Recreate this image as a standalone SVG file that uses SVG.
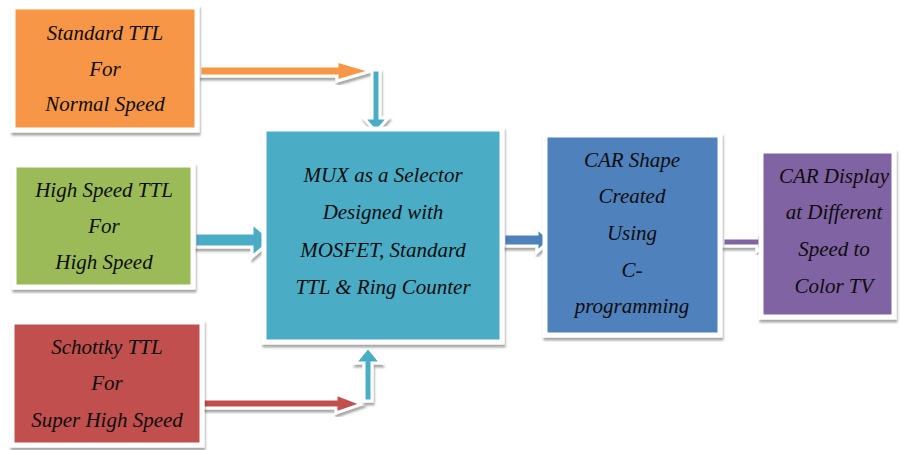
<svg xmlns="http://www.w3.org/2000/svg" width="901" height="450" viewBox="0 0 901 450">
<defs>
<filter id="sh" x="-10%" y="-10%" width="130%" height="130%">
<feDropShadow dx="1" dy="3" stdDeviation="1.2" flood-color="#000" flood-opacity="0.35"/>
</filter>
</defs>
<style>
.box{stroke:#ffffff;stroke-width:5;filter:url(#sh)}
.arr{stroke:#ffffff;stroke-width:3;stroke-linejoin:miter;filter:url(#sh)}
text{font-family:"Liberation Serif","Times New Roman",serif;font-style:italic;font-size:21px;fill:#0d0d0d;text-anchor:middle}
</style>
<rect width="901" height="450" fill="#ffffff"/>
<g id="connectors">
<polygon class="arr" fill="#F79646" points="200,66 337,66 337,61 371,71 337,81 337,76 200,76"/>
<polygon class="arr" fill="#4BACC6" points="372,70 380,70 380,118 388,118 376,132 364,118 372,118"/>
<polygon class="arr" fill="#4BACC6" points="195,233 252,233 252,223 272,240 252,257 252,247 195,247"/>
<polygon class="arr" fill="#C0504D" points="203,399 336,399 336,394 362,404 336,413 336,408 203,408"/>
<polygon class="arr" fill="#4BACC6" points="364,401 372,401 372,363 381,363 368,347 355,363 364,363"/>
<polygon class="arr" fill="#4F81BD" points="504,234 537,234 537,228 550,240 537,252 537,246 504,246"/>
<polygon class="arr" fill="#8064A2" points="723,238 757,238 757,233 769,242 757,251 757,246 723,246"/>
</g>
<g id="standard-ttl">
<rect class="box" x="13" y="7" width="184" height="123" fill="#F79646"/>
<text x="105" y="40">Standard TTL</text>
<text x="105" y="76">For</text>
<text x="105" y="111">Normal Speed</text>
</g>
<g id="high-speed-ttl">
<rect class="box" x="14" y="165" width="179" height="122" fill="#9BBB59"/>
<text x="104" y="197">High Speed TTL</text>
<text x="104" y="233">For</text>
<text x="104" y="269">High Speed</text>
</g>
<g id="schottky-ttl">
<rect class="box" x="12" y="322" width="190" height="123" fill="#C0504D"/>
<text x="107" y="354">Schottky TTL</text>
<text x="107" y="390">For</text>
<text x="107" y="427">Super High Speed</text>
</g>
<g id="mux">
<rect class="box" x="264" y="129" width="238" height="213" fill="#4BACC6"/>
<text x="383" y="182">MUX as a Selector</text>
<text x="383" y="219">Designed with</text>
<text x="383" y="257">MOSFET, Standard</text>
<text x="383" y="294">TTL &amp; Ring Counter</text>
</g>
<g id="car-shape">
<rect class="box" x="545" y="135" width="175" height="200" fill="#4F81BD"/>
<text x="632" y="167">CAR Shape</text>
<text x="632" y="203">Created</text>
<text x="632" y="240">Using</text>
<text x="632" y="277">C-</text>
<text x="632" y="313">programming</text>
</g>
<g id="car-display">
<rect class="box" x="761" y="151" width="133" height="166" fill="#8064A2"/>
<text x="834" y="183">CAR Display</text>
<text x="834" y="219">at Different</text>
<text x="834" y="256">Speed to</text>
<text x="834" y="293">Color TV</text>
</g>
</svg>
